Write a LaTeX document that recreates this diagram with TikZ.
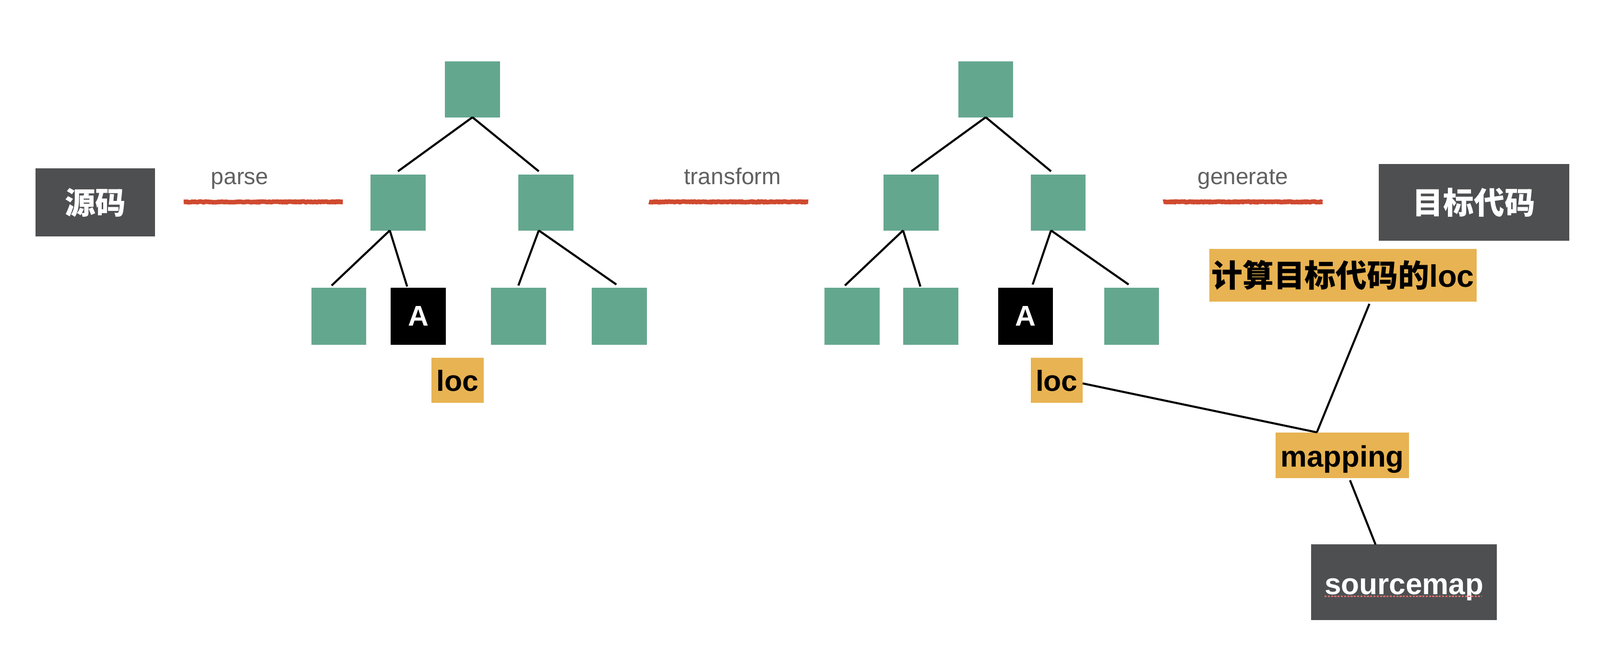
\documentclass[tikz,border=0pt]{standalone}
\usepackage{fontspec}
\setmainfont{Liberation Sans}
\newfontfamily\cjk{Noto Sans CJK SC}
\usetikzlibrary{decorations.pathmorphing,calc}
\definecolor{tgreen}{HTML}{64A78F}
\definecolor{dgray}{HTML}{4E4F51}
\definecolor{orng}{HTML}{E8B352}
\definecolor{rline}{HTML}{CF4A30}
\definecolor{lgray}{HTML}{606060}
\definecolor{spell}{HTML}{D97070}
\tikzset{
  gnode/.style={fill=tgreen, minimum width=54pt, minimum height=55pt, inner sep=0pt, outer sep=0pt},
  anode/.style={fill=black, text=white, font=\bfseries\fontsize{28}{28}\selectfont, minimum width=54pt, minimum height=56pt, inner sep=0pt, outer sep=0pt},
  dbox/.style={fill=dgray, text=white, inner sep=0pt, outer sep=0pt},
  obox/.style={fill=orng, text=black, inner sep=0pt, outer sep=0pt},
  lbl/.style={text=lgray, font=\fontsize{22.5}{22.5}\selectfont, anchor=base, inner sep=0pt},
  edge/.style={line width=2pt, black},
  redline/.style={draw=rline, line width=4.5pt, line join=round, decorate, decoration={random steps, segment length=1pt, amplitude=0.45pt}}
}
\begin{document}
\begin{tikzpicture}[x=1pt,y=-1pt]
\useasboundingbox (0,0) rectangle (1568,644);

% source / target boxes
\node[dbox, minimum width=117pt, minimum height=67pt, font=\cjk\bfseries\fontsize{30}{30}\selectfont] (src) at (93.5,198.5) {源码};
\node[dbox, minimum width=187pt, minimum height=75pt, font=\cjk\bfseries\fontsize{30}{30}\selectfont] (tgt) at (1444.5,198.5) {目标代码};

% stage labels
\node[lbl] (lparse) at (235,181) {parse};
\node[lbl] (ltrans) at (718,181) {transform};
\node[lbl] (lgen) at (1218,181) {generate};
\coordinate (p1a) at (180,198); \coordinate (p1b) at (336,198);
\coordinate (p2a) at (636,198); \coordinate (p2b) at (792,198);
\coordinate (p3a) at (1140,198); \coordinate (p3b) at (1296,198);
\draw[redline] (p1a) -- (p1b);
\draw[redline] (p2a) -- (p2b);
\draw[redline] (p3a) -- (p3b);

% tree 1
\node[gnode] (r1) at (463,87.5) {};
\node[gnode] (a1) at (390,198.5) {};
\node[gnode] (b1) at (535,198.5) {};
\node[gnode, minimum height=56pt] (l11) at (332,310) {};
\node[anode] (l12) at (410,310) {A};
\node[gnode, minimum height=56pt] (l13) at (508,310) {};
\node[gnode, minimum height=56pt] (l14) at (607,310) {};
\node[obox, minimum width=51pt, minimum height=44pt, font=\bfseries\fontsize{28.5}{28.5}\selectfont, text height=21pt, text depth=0pt] (loc1) at (448.5,373) {loc};

\draw[edge] (r1.south) -- ([yshift=3pt]a1.north);
\draw[edge] (r1.south) -- ([xshift=-7pt,yshift=3pt]b1.north);
\draw[edge] ([xshift=-8pt]a1.south) -- ([xshift=-7pt,yshift=2pt]l11.north);
\draw[edge] ([xshift=-8pt]a1.south) -- ([xshift=-11pt,yshift=1pt]l12.north);
\draw[edge] ([xshift=-7pt]b1.south) -- ([yshift=2pt]l13.north);
\draw[edge] ([xshift=-7pt]b1.south) -- ([xshift=-3pt,yshift=3pt]l14.north);

% tree 2
\node[gnode] (r2) at (966,87.5) {};
\node[gnode] (a2) at (893,198.5) {};
\node[gnode] (b2) at (1037,198.5) {};
\node[gnode, minimum height=56pt] (l21) at (835,310) {};
\node[gnode, minimum height=56pt] (l22) at (912,310) {};
\node[anode] (l23) at (1005,310) {A};
\node[gnode, minimum height=56pt] (l24) at (1109,310) {};
\node[obox, minimum width=51pt, minimum height=44pt, font=\bfseries\fontsize{28.5}{28.5}\selectfont, text height=21pt, text depth=0pt] (loc2) at (1035.5,373) {loc};

\draw[edge] (r2.south) -- ([yshift=3pt]a2.north);
\draw[edge] (r2.south) -- ([xshift=-7pt,yshift=3pt]b2.north);
\draw[edge] ([xshift=-8pt]a2.south) -- ([xshift=-7pt,yshift=2pt]l21.north);
\draw[edge] ([xshift=-8pt]a2.south) -- ([xshift=-10pt,yshift=1pt]l22.north);
\draw[edge] ([xshift=-7pt]b2.south) -- ([xshift=7pt,yshift=3pt]l23.north);
\draw[edge] ([xshift=-7pt]b2.south) -- ([xshift=-3pt,yshift=3pt]l24.north);

% right side
\node[obox, minimum width=262pt, minimum height=52pt] (calc) at (1316,270)
  {{\cjk\bfseries\fontsize{30.5}{30.5}\selectfont 计算目标代码的}{\bfseries\fontsize{30.5}{30.5}\selectfont loc}};
\node[obox, minimum width=131pt, minimum height=45pt, font=\bfseries\fontsize{29}{29}\selectfont, text height=23pt, text depth=0pt] (map) at (1315.5,446.5) {mapping};
\node[dbox, minimum width=182pt, minimum height=74pt, font=\bfseries\fontsize{29.2}{29.2}\selectfont, text height=24pt, text depth=0pt] (sm) at (1376,571) {sourcemap};
\draw[spell, line width=1.3pt, dash pattern=on 2pt off 1.2pt] ($(sm.center)+(-78,14)$) -- ($(sm.center)+(76,14)$);

\draw[edge] ([yshift=-3pt]loc2.east) -- ([xshift=-25pt]map.north);
\draw[edge] ([xshift=26pt,yshift=-2pt]calc.south) -- ([xshift=-25pt]map.north);
\draw[edge] ([xshift=7.5pt,yshift=-2pt]map.south) -- ([xshift=-28pt]sm.north);
\end{tikzpicture}
\end{document}
